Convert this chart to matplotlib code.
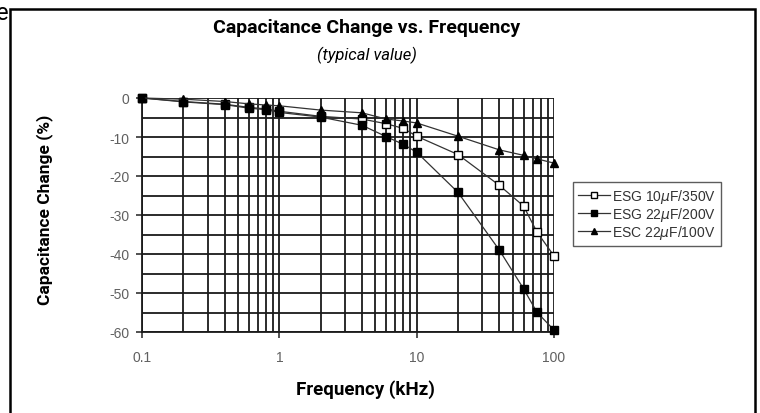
import matplotlib
matplotlib.use('Agg')
import matplotlib.pyplot as plt
from matplotlib.patches import Rectangle
from matplotlib.ticker import FixedLocator, NullFormatter, LogLocator

plt.rcParams['axes.unicode_minus'] = False

# valores
freq = [0.1, 0.2, 0.4, 0.6, 0.8, 1, 2, 4, 6, 8, 10, 20, 40, 60, 75, 100]
esg10_350 = [0, -0.9, -1.6, -2.4, -2.8, -3.4, -4.7, -5.4, -6.6, -7.8, -9.8, -14.5, -22.4, -27.7, -34.3, -40.5]
esg22_200 = [0, -1.0, -1.7, -2.6, -3.0, -3.7, -4.9, -7.0, -9.9, -11.9, -13.9, -24.2, -39.0, -48.9, -54.9, -59.5]
esc22_100 = [0, -0.3, -0.9, -1.5, -1.8, -2.0, -3.1, -3.8, -5.4, -5.9, -6.4, -9.8, -13.3, -14.7, -15.6, -16.7]

series = [('ESG 10$\\mu$F/350V', esg10_350, 's', 'white'),
          ('ESG 22$\\mu$F/200V', esg22_200, 's', 'black'),
          ('ESC 22$\\mu$F/100V', esc22_100, '^', 'black')]

x_ticks = [0.1, 1, 10, 100]
x_labels = ['0.1', '1', '10', '100']
y_ticks = [0, -10, -20, -30, -40, -50, -60]

fig = plt.figure(figsize=(7.6, 4.14), dpi=100)
ax = fig.add_axes([142/760, 1-333/414, 412/760, 234/414])

for name, vals, mk, fc in series:
    ax.plot(freq, vals, color='#333333', lw=0.9, marker=mk, markersize=6,
            markerfacecolor=fc, markeredgecolor='black', markeredgewidth=1,
            label=name, clip_on=False, zorder=3)

ax.set_xscale('log')
ax.set_xlim(0.1, 100)
ax.set_ylim(-60, 0)

ax.xaxis.set_major_locator(FixedLocator(x_ticks))
ax.set_xticklabels(x_labels)
ax.xaxis.set_minor_locator(LogLocator(base=10, subs=range(2, 10)))
ax.xaxis.set_minor_formatter(NullFormatter())
ax.yaxis.set_major_locator(FixedLocator(y_ticks))
ax.yaxis.set_minor_locator(FixedLocator([-5, -15, -25, -35, -45, -55]))

ax.grid(True, which='both', color='#1a1a1a', lw=1.3)
ax.set_axisbelow(True)
ax.tick_params(which='major', direction='out', length=4, width=1.2, color='#333333',
               labelsize=10, labelcolor='#606060', pad=5)
ax.tick_params(axis='x', which='major', pad=9)
ax.tick_params(which='minor', length=0)
for lab in ax.get_xticklabels() + ax.get_yticklabels():
    lab.set_family('Liberation Sans')

for s in ['top', 'right']:
    ax.spines[s].set_visible(False)
ax.spines['left'].set_linewidth(1.3)
ax.spines['bottom'].set_linewidth(1.3)
ax.spines['left'].set_color('#1a1a1a')
ax.spines['bottom'].set_color('#1a1a1a')

leg = fig.legend(loc='upper left', bbox_to_anchor=(573/760, 1-183/414),
                 frameon=True, fancybox=False, edgecolor='#333333',
                 prop={'family': 'Liberation Sans', 'size': 10},
                 handlelength=2.3, handletextpad=0.15, labelspacing=0.0,
                 borderpad=0.35, borderaxespad=0, markerscale=0.75)
leg.get_frame().set_linewidth(1.0)
for t in leg.get_texts():
    t.set_color('#333333')

fig.text(367/760, 1-28/414, 'Capacitance Change vs. Frequency', ha='center', va='center',
         family='Roboto', weight='bold', fontsize=14)
fig.text(367/760, 1-55/414, '(typical value)', ha='center', va='center',
         family='Roboto', style='italic', fontsize=12)
fig.text(365/760, 1-390/414, 'Frequency (kHz)', ha='center', va='center',
         family='Roboto', weight='bold', fontsize=13.5)
fig.text(45/760, 1-210/414, 'Capacitance Change (%)', ha='center', va='center',
         rotation=90, family='Roboto', weight='bold', fontsize=12.5)

# marco y fragmento de texto cortado arriba a la izquierda
fig.patches.append(Rectangle((10/760, -0.05), 745/760, 1.05-10/414, transform=fig.transFigure,
                             fill=False, edgecolor='black', lw=1.8))
fig.text(-4/760, 1-14/414, 'e', ha='left', va='center', family='Roboto', fontsize=17)

fig.savefig('out.png', dpi=100)
